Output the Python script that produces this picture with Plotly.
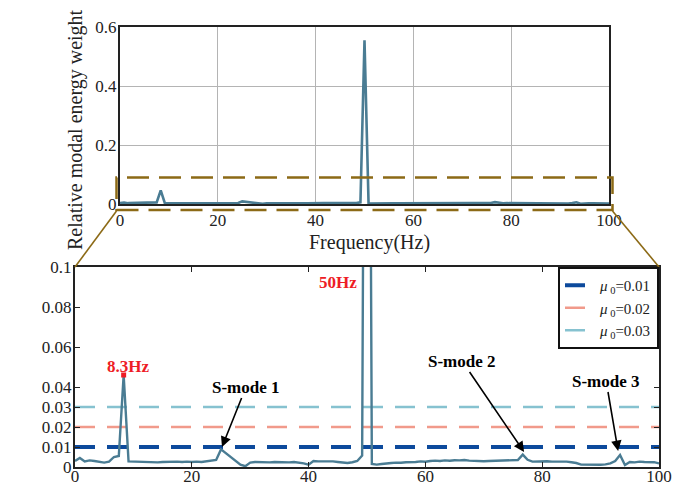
import plotly.graph_objects as go

# ---------------- data ----------------
freq = [0.0, 0.83, 1.67, 2.5, 3.33, 4.17, 5.0, 5.83, 6.67, 7.5,
        8.33, 9.17, 10.0, 10.83, 11.67, 12.5, 13.33, 14.17, 15.0, 15.83,
        16.67, 17.5, 18.33, 19.17, 20.0, 20.83, 21.67, 22.5, 23.33, 24.17,
        25.0, 25.83, 26.67, 27.5, 28.33, 29.17, 30.0, 30.83, 31.67, 32.5,
        33.33, 34.17, 35.0, 35.83, 36.67, 37.5, 38.33, 39.17, 40.0, 40.83,
        41.67, 42.5, 43.33, 44.17, 45.0, 45.83, 46.67, 47.5, 48.33, 49.17,
        50.0, 50.83, 51.67, 52.5, 53.33, 54.17, 55.0, 55.83, 56.67, 57.5,
        58.33, 59.17, 60.0, 60.83, 61.67, 62.5, 63.33, 64.17, 65.0, 65.83,
        66.67, 67.5, 68.33, 69.17, 70.0, 70.83, 71.67, 72.5, 73.33, 74.17,
        75.0, 75.83, 76.67, 77.5, 78.33, 79.17, 80.0, 80.83, 81.67, 82.5,
        83.33, 84.17, 85.0, 85.83, 86.67, 87.5, 88.33, 89.17, 90.0, 90.83,
        91.67, 92.5, 93.33, 94.17, 95.0, 95.83, 96.67, 97.5, 98.33, 99.17,
        100.0]

weight = [0.0030, 0.0045, 0.0028, 0.0033, 0.0030, 0.0027, 0.0022, 0.0027, 0.0050, 0.0055,
          0.0460, 0.0028, 0.0027, 0.0026, 0.0025, 0.0024, 0.0025, 0.0023, 0.0025, 0.0026,
          0.0029, 0.0027, 0.0025, 0.0027, 0.0025, 0.0027, 0.0025, 0.0028, 0.0032, 0.0035,
          0.0088, 0.0068, 0.0048, 0.0028, 0.0012, 0.0004, 0.0022, 0.0025, 0.0024, 0.0026,
          0.0023, 0.0025, 0.0024, 0.0026, 0.0023, 0.0025, 0.0022, 0.0018, 0.0012, 0.0030,
          0.0028, 0.0029, 0.0027, 0.0028, 0.0025, 0.0022, 0.0020, 0.0024, 0.0030, 0.0057,
          0.5550, 0.0015, 0.0012, 0.0015, 0.0016, 0.0020, 0.0022, 0.0021, 0.0024, 0.0023,
          0.0025, 0.0028, 0.0026, 0.0030, 0.0032, 0.0030, 0.0033, 0.0031, 0.0034, 0.0033,
          0.0035, 0.0032, 0.0030, 0.0031, 0.0029, 0.0030, 0.0031, 0.0030, 0.0032, 0.0031,
          0.0033, 0.0035, 0.0062, 0.0036, 0.0027, 0.0028, 0.0026, 0.0029, 0.0027, 0.0028,
          0.0026, 0.0027, 0.0024, 0.0020, 0.0012, 0.0011, 0.0010, 0.0010, 0.0011, 0.0013,
          0.0018, 0.0030, 0.0060, 0.0010, 0.0025, 0.0023, 0.0027, 0.0025, 0.0026, 0.0024,
          0.0018]

thresholds = [0.01, 0.02, 0.03]
threshold_labels = ["<i>μ</i><sub> 0</sub>=0.01", "<i>μ</i><sub> 0</sub>=0.02", "<i>μ</i><sub> 0</sub>=0.03"]
threshold_colors = ["#0d4a9c", "#f19a8b", "#86c2d0"]
threshold_widths = [4, 2.5, 2.5]

peak_freq = [8.33]
peak_val = [0.046]

top_yticks = [0, 0.2, 0.4, 0.6]
top_yticktext = ["0", "0.2", "0.4", "0.6"]
xticks = [0, 20, 40, 60, 80, 100]
bot_yticks = [0, 0.01, 0.02, 0.03, 0.04, 0.06, 0.08, 0.1]
bot_yticktext = ["0", "0.01", "0.02", "0.03", "0.04", "0.06", "0.08", "0.1"]

# ---------------- figure ----------------
W, H = 679, 491
FONT = "Liberation Serif, Times New Roman, serif"
INK = "#222222"
LINE_COLOR = "#4a7c93"
GOLD = "#8c6a16"


def px_x(v):
    return v / W


def px_y(v):
    return 1 - v / H


fig = go.Figure()

fig.add_trace(go.Scatter(x=freq, y=weight, mode="lines", xaxis="x", yaxis="y",
                         line=dict(color=LINE_COLOR, width=2.6), showlegend=False,
                         hoverinfo="skip"))

for th, lab, col, wd in zip(thresholds, threshold_labels, threshold_colors, threshold_widths):
    fig.add_trace(go.Scatter(x=[freq[0], freq[-1]], y=[th, th], mode="lines",
                             xaxis="x2", yaxis="y2", name=lab,
                             line=dict(color=col, width=wd, dash="20px,12px")))

fig.add_trace(go.Scatter(x=freq, y=weight, mode="lines", xaxis="x2", yaxis="y2",
                         line=dict(color=LINE_COLOR, width=2.4), showlegend=False,
                         hoverinfo="skip"))

fig.add_trace(go.Scatter(x=peak_freq, y=peak_val, mode="markers", xaxis="x2", yaxis="y2",
                         marker=dict(symbol="square", color="#ee1c25", size=5),
                         showlegend=False, hoverinfo="skip"))

top_tickfont = dict(family=FONT, size=17, color=INK)
bot_tickfont = dict(family=FONT, size=17, color=INK)

fig.update_layout(
    width=W, height=H,
    margin=dict(l=0, r=0, t=0, b=0),
    paper_bgcolor="white", plot_bgcolor="white",
    font=dict(family=FONT, color=INK, size=16),
    xaxis=dict(domain=[px_x(120), px_x(609)], range=[0, 100], anchor="y",
               tickvals=xticks, ticks="", showgrid=True, gridcolor="#b4b4b4",
               gridwidth=1, layer="below traces", showline=True, linecolor=INK,
               linewidth=2, mirror=True, zeroline=False, tickfont=top_tickfont,
               automargin=False, ticklabelstandoff=0),
    yaxis=dict(domain=[px_y(204), px_y(27)], range=[0, 0.6], anchor="x",
               tickvals=top_yticks, ticktext=top_yticktext, ticks="",
               showgrid=True, gridcolor="#b4b4b4", gridwidth=1,
               layer="below traces", showline=True, linecolor=INK,
               linewidth=2, mirror=True, zeroline=False, tickfont=top_tickfont,
               automargin=False, ticklabelstandoff=-2),
    xaxis2=dict(domain=[px_x(75), px_x(659)], range=[0, 100], anchor="y2",
                tickvals=xticks, ticks="inside", ticklen=5, tickcolor=INK,
                showgrid=False, showline=True, linecolor=INK, linewidth=2,
                mirror="ticks", zeroline=False, tickfont=bot_tickfont,
                automargin=False, ticklabelstandoff=-7),
    yaxis2=dict(domain=[px_y(467), px_y(267)], range=[0, 0.1], anchor="x2",
                tickvals=bot_yticks, ticktext=bot_yticktext, ticks="inside", ticklen=5,
                tickcolor=INK, showgrid=False, showline=True, linecolor=INK,
                linewidth=2, mirror="ticks", zeroline=False, tickfont=bot_tickfont,
                automargin=False, ticklabelstandoff=-2),
    legend=dict(x=px_x(659), y=px_y(267), xanchor="right", yanchor="top",
                bgcolor="white", bordercolor="#111111", borderwidth=2,
                font=dict(family=FONT, size=15, color=INK),
                tracegroupgap=0, itemwidth=30),
)

shapes = [
    dict(type="rect", xref="paper", yref="paper",
         x0=px_x(116.5), x1=px_x(612.5), y0=px_y(210), y1=px_y(177.5),
         line=dict(color=GOLD, width=2.5, dash="22px,10px")),
    dict(type="line", xref="paper", yref="paper",
         x0=px_x(116.5), y0=px_y(211), x1=px_x(75), y1=px_y(267),
         line=dict(color=GOLD, width=1.6)),
    dict(type="line", xref="paper", yref="paper",
         x0=px_x(612.5), y0=px_y(211), x1=px_x(659), y1=px_y(267),
         line=dict(color=GOLD, width=1.6)),
]
fig.update_layout(shapes=shapes)

annots = [
    dict(text="Relative modal energy weight", xref="paper", yref="paper",
         x=px_x(75), y=px_y(130), xanchor="center", yanchor="middle",
         textangle=-90, showarrow=False,
         font=dict(family=FONT, size=20, color=INK)),
    dict(text="Frequency(Hz)", xref="paper", yref="paper",
         x=px_x(370), y=px_y(242), xanchor="center", yanchor="middle",
         showarrow=False,
         font=dict(family=FONT, size=20, color=INK)),
    dict(text="<b>8.3Hz</b>", xref="x2", yref="y2", x=9.1, y=0.0505, showarrow=False,
         xanchor="center", yanchor="middle",
         font=dict(family=FONT, size=17, color="#ee1c25")),
    dict(text="<b>50Hz</b>", xref="x2", yref="y2", x=45.0, y=0.0925, showarrow=False,
         xanchor="center", yanchor="middle",
         font=dict(family=FONT, size=17, color="#ee1c25")),
    dict(text="<b>S-mode 1</b>", xref="x2", yref="y2", x=25.17, y=0.010,
         ax=24, ay=-60, showarrow=True, arrowhead=2, arrowsize=1.3, arrowwidth=1.6,
         arrowcolor="black", standoff=0,
         font=dict(family=FONT, size=17, color="black")),
    dict(text="<b>S-mode 2</b>", xref="x2", yref="y2", x=76.9, y=0.0075,
         ax=-62, ay=-91, showarrow=True, arrowhead=2, arrowsize=1.3, arrowwidth=1.6,
         arrowcolor="black", standoff=0,
         font=dict(family=FONT, size=17, color="black")),
    dict(text="<b>S-mode 3</b>", xref="x2", yref="y2", x=93.0, y=0.008,
         ax=-12, ay=-70, showarrow=True, arrowhead=2, arrowsize=1.3, arrowwidth=1.6,
         arrowcolor="black", standoff=0,
         font=dict(family=FONT, size=17, color="black")),
]
fig.update_layout(annotations=annots)

fig.write_html("out.html")
